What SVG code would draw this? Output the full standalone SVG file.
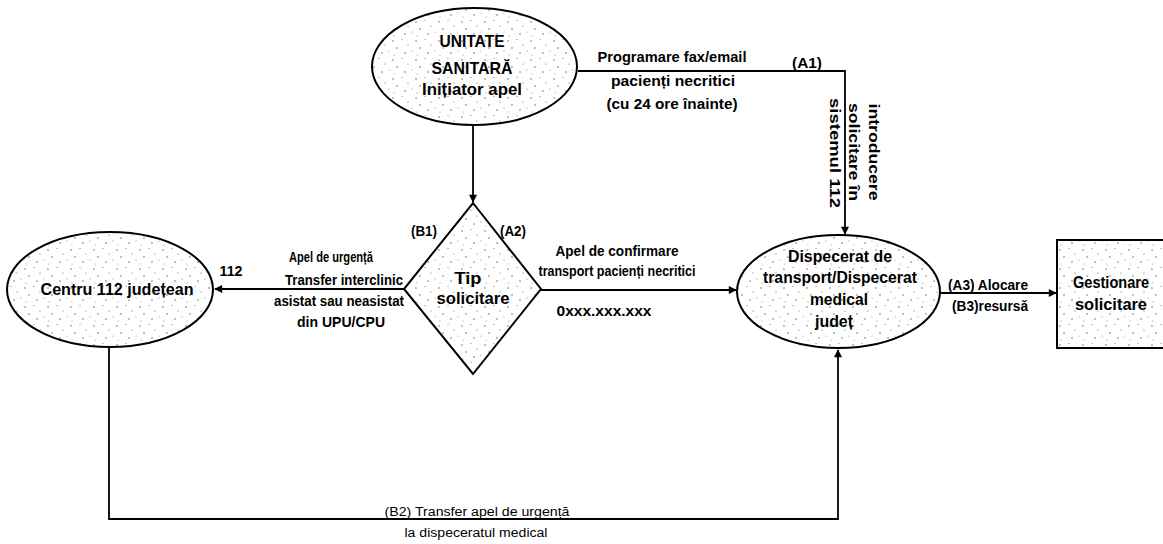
<svg xmlns="http://www.w3.org/2000/svg" width="1163" height="544" viewBox="0 0 1163 544">
<style>
.shape{fill:url(#dots);stroke:#000;stroke-width:2}
.n{font-family:"Liberation Sans",Arial,sans-serif;font-weight:bold;font-size:17px;text-anchor:middle;fill:#000}
.l{font-family:"Liberation Sans",Arial,sans-serif;font-weight:bold;font-size:14px;text-anchor:middle;fill:#000}
.s{font-family:"Liberation Sans",Arial,sans-serif;font-size:12.5px;text-anchor:middle;fill:#000}
.c{fill:none;stroke:#000;stroke-width:1.8}
</style>
<defs>
<pattern id="dots" width="23" height="19" patternUnits="userSpaceOnUse">
<rect width="23" height="19" fill="#fff"/>
<circle cx="2" cy="3" r="0.7" fill="#555"/>
<circle cx="11" cy="1.5" r="0.6" fill="#777"/>
<circle cx="6" cy="10" r="0.7" fill="#555"/>
<circle cx="17" cy="7" r="0.6" fill="#666"/>
<circle cx="14" cy="15" r="0.7" fill="#555"/>
<circle cx="21" cy="13" r="0.5" fill="#777"/>
<circle cx="3" cy="17" r="0.5" fill="#777"/>
</pattern>
<marker id="arr" viewBox="0 0 10 10" refX="9" refY="5" markerWidth="9" markerHeight="8" markerUnits="userSpaceOnUse" orient="auto">
<path d="M0,0 L10,5 L0,10 Z" fill="#000"/>
</marker>
</defs>

<g id="connectors">
<polyline class="c" points="578,71 845,71 845,234" marker-end="url(#arr)"/>
<line class="c" x1="473" y1="125" x2="473" y2="202" marker-end="url(#arr)"/>
<line class="c" x1="404" y1="289" x2="215" y2="289" marker-end="url(#arr)"/>
<line class="c" x1="541" y1="290" x2="736" y2="290" marker-end="url(#arr)"/>
<line class="c" x1="940" y1="293" x2="1056" y2="293" marker-end="url(#arr)"/>
<polyline class="c" points="109,347 109,519 838,519 838,350" marker-end="url(#arr)"/>
</g>

<g id="labels">
<text class="l" x="672" y="62" textLength="149" lengthAdjust="spacingAndGlyphs">Programare fax/email</text>
<text class="l" x="673" y="86" textLength="124" lengthAdjust="spacingAndGlyphs">pacienți necritici</text>
<text class="l" x="672" y="109" textLength="131" lengthAdjust="spacingAndGlyphs">(cu 24 ore înainte)</text>
<text class="l" x="807" y="68" textLength="30" lengthAdjust="spacingAndGlyphs">(A1)</text>
<g transform="translate(874,152) rotate(90)"><text class="l" x="0" y="5" textLength="97" lengthAdjust="spacingAndGlyphs">introducere</text></g>
<g transform="translate(854,152) rotate(90)"><text class="l" x="0" y="5" textLength="98" lengthAdjust="spacingAndGlyphs">solicitare în</text></g>
<g transform="translate(835,153) rotate(90)"><text class="l" x="0" y="5" textLength="110" lengthAdjust="spacingAndGlyphs">sistemul 112</text></g>
<text class="l" x="424" y="236" textLength="26" lengthAdjust="spacingAndGlyphs">(B1)</text>
<text class="l" x="513" y="236" textLength="26" lengthAdjust="spacingAndGlyphs">(A2)</text>
<text class="l" x="231" y="276" textLength="23" lengthAdjust="spacingAndGlyphs">112</text>
<text class="l" x="331" y="262" textLength="84" lengthAdjust="spacingAndGlyphs">Apel de urgență</text>
<text class="l" x="344" y="285" textLength="118" lengthAdjust="spacingAndGlyphs">Transfer interclinic</text>
<text class="l" x="339" y="306" textLength="130" lengthAdjust="spacingAndGlyphs">asistat sau neasistat</text>
<text class="l" x="341" y="327" textLength="88" lengthAdjust="spacingAndGlyphs">din UPU/CPU</text>
<text class="l" x="617" y="256" textLength="123" lengthAdjust="spacingAndGlyphs">Apel de confirmare</text>
<text class="l" x="617" y="276" textLength="157" lengthAdjust="spacingAndGlyphs">transport pacienți necritici</text>
<text class="l" x="604" y="316" textLength="95" lengthAdjust="spacingAndGlyphs">0xxx.xxx.xxx</text>
<text class="l" x="988" y="290" textLength="80" lengthAdjust="spacingAndGlyphs">(A3) Alocare</text>
<text class="l" x="990" y="311" textLength="76" lengthAdjust="spacingAndGlyphs">(B3)resursă</text>
<text class="s" x="477" y="516" textLength="185" lengthAdjust="spacingAndGlyphs">(B2) Transfer apel de urgență</text>
<text class="s" x="476" y="537" textLength="143" lengthAdjust="spacingAndGlyphs">la dispeceratul medical</text>
</g>

<g id="unitate-sanitara">
<ellipse class="shape" cx="474.5" cy="66.5" rx="102.5" ry="58.5"/>
<text class="n" x="472" y="47" textLength="65" lengthAdjust="spacingAndGlyphs">UNITATE</text>
<text class="n" x="472" y="74" textLength="81" lengthAdjust="spacingAndGlyphs">SANITARĂ</text>
<text class="n" x="472" y="95" textLength="100" lengthAdjust="spacingAndGlyphs">Inițiator apel</text>
</g>

<g id="tip-solicitare">
<polygon class="shape" points="473,203 541,289 473,374 404,289"/>
<text class="n" x="468" y="284" textLength="27" lengthAdjust="spacingAndGlyphs">Tip</text>
<text class="n" x="473" y="304" textLength="73" lengthAdjust="spacingAndGlyphs">solicitare</text>
</g>

<g id="centru-112">
<ellipse class="shape" cx="110" cy="289.5" rx="103" ry="57.5"/>
<text class="n" x="117" y="295" textLength="153" lengthAdjust="spacingAndGlyphs">Centru 112 județean</text>
</g>

<g id="dispecerat">
<ellipse class="shape" cx="838.5" cy="291.5" rx="101.5" ry="56.5"/>
<text class="n" x="840" y="262" textLength="104" lengthAdjust="spacingAndGlyphs">Dispecerat de</text>
<text class="n" x="840" y="283" textLength="154" lengthAdjust="spacingAndGlyphs">transport/Dispecerat</text>
<text class="n" x="839" y="305" textLength="58" lengthAdjust="spacingAndGlyphs">medical</text>
<text class="n" x="834" y="327" textLength="38" lengthAdjust="spacingAndGlyphs">județ</text>
</g>

<g id="gestionare">
<rect class="shape" x="1057" y="240" width="120" height="108"/>
<text class="n" x="1111" y="288" textLength="76" lengthAdjust="spacingAndGlyphs">Gestionare</text>
<text class="n" x="1111" y="310" textLength="72" lengthAdjust="spacingAndGlyphs">solicitare</text>
</g>
</svg>
